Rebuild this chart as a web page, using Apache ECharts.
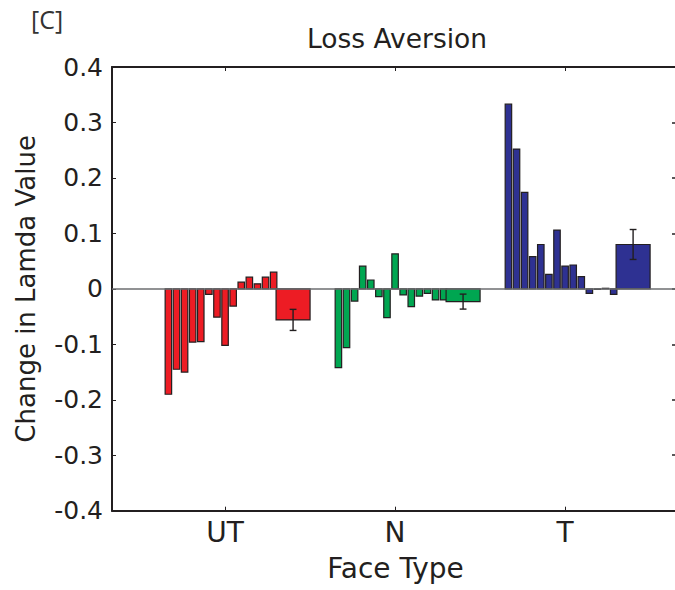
<!DOCTYPE html>
<html>
<head>
<meta charset="utf-8">
<script src="https://cdn.jsdelivr.net/npm/echarts@6/dist/echarts.min.js"></script>
<style>
html,body{margin:0;padding:0;background:#fff;overflow:hidden;}
#chart{width:675px;height:590px;}
</style>
</head>
<body>
<div id="chart"></div>
<script>
// ---- data ----
const groups = ['UT', 'N', 'T'];
const utBars = [-0.190, -0.145, -0.150, -0.096, -0.095, -0.010, -0.051, -0.102, -0.031, 0.012, 0.021, 0.009, 0.021, 0.030];
const nBars  = [-0.142, -0.106, -0.022, 0.041, 0.016, -0.014, -0.052, 0.063, -0.011, -0.032, -0.013, -0.008, -0.020, -0.020];
const tBars  = [0.333, 0.252, 0.174, 0.058, 0.080, 0.026, 0.106, 0.041, 0.043, 0.022, -0.008, -0.001, 0.001, -0.010];
const groupMeans = [-0.056, -0.023, 0.080];
const groupErrors = [0.019, 0.0135, 0.027];
const yTickLabels = ['-0.4', '-0.3', '-0.2', '-0.1', '0', '0.1', '0.2', '0.3', '0.4'];

// ---- layout / style ----
const colors = ['#ED1C24', '#00A651', '#2E3192'];
const edge = '#231f20';
const FONT = 'DejaVu Sans';
const slot = 1 / 21;           // spacing of individual bars within a group
const smallW = 0.8 * slot;     // individual bar width (axis units)
const meanOffset = 0.4;        // mean bar centre relative to group tick
const meanW = 0.2;             // mean bar width (axis units)
const capW = 0.04;             // error-bar cap width

const allBars = [utBars, nBars, tBars];
const smallData = [];
allBars.forEach((arr, g) => {
  arr.forEach((v, i) => {
    smallData.push([g + 1 + (i - 7) * slot, v, g]);
  });
});
const meanData = groupMeans.map((m, g) => [g + 1 + meanOffset, m, g]);
const errData = groupMeans.map((m, g) => [g + 1 + meanOffset, m - groupErrors[g], m + groupErrors[g]]);

function barRenderer(width) {
  return function (params, api) {
    const x = api.value(0), y = api.value(1), g = api.value(2);
    const p0 = api.coord([x - width / 2, y]);
    const p1 = api.coord([x + width / 2, 0]);
    return {
      type: 'rect',
      shape: { x: p0[0], y: Math.min(p0[1], p1[1]), width: p1[0] - p0[0], height: Math.abs(p1[1] - p0[1]) },
      style: { fill: colors[g], stroke: edge, lineWidth: 1.2 }
    };
  };
}

function errRenderer(params, api) {
  const x = api.value(0), lo = api.value(1), hi = api.value(2);
  const pl = api.coord([x, lo]), ph = api.coord([x, hi]);
  const cl0 = api.coord([x - capW / 2, lo]), cl1 = api.coord([x + capW / 2, lo]);
  const ch0 = api.coord([x - capW / 2, hi]), ch1 = api.coord([x + capW / 2, hi]);
  const st = { stroke: edge, lineWidth: 1.4 };
  return {
    type: 'group',
    children: [
      { type: 'line', shape: { x1: pl[0], y1: pl[1], x2: ph[0], y2: ph[1] }, style: st },
      { type: 'line', shape: { x1: cl0[0], y1: cl0[1], x2: cl1[0], y2: cl1[1] }, style: st },
      { type: 'line', shape: { x1: ch0[0], y1: ch0[1], x2: ch1[0], y2: ch1[1] }, style: st }
    ]
  };
}

const xMin = 0.335, xMax = 3.67;
const tickVals = groups.map((_, i) => i + 1);

const chart = echarts.init(document.getElementById('chart'), null, { renderer: 'svg' });
chart.setOption({
  animation: false,
  backgroundColor: '#fff',
  textStyle: { fontFamily: FONT },
  grid: { left: 112, top: 67, width: 567, height: 443.7, containLabel: false, outerBoundsMode: 'none' },
  graphic: [
    { type: 'text', left: 31, top: 6, style: { text: '[C]', font: '25px "Open Sans"', fill: '#333' } },
    { type: 'text', x: 397, y: 38, style: { text: 'Loss Aversion', font: '26.5px "DejaVu Sans"', fill: edge, align: 'center', verticalAlign: 'middle' } }
  ],
  xAxis: [
    {
      type: 'value', min: xMin, max: xMax, position: 'bottom',
      axisLine: { show: true, onZero: false, lineStyle: { color: edge, width: 2 } },
      axisTick: { show: true, inside: true, length: 4, customValues: tickVals, lineStyle: { color: edge, width: 1 } },
      axisLabel: { show: true, customValues: tickVals, margin: 8, fontSize: 28, color: edge, fontFamily: FONT,
        formatter: v => groups[Math.round(v) - 1] },
      splitLine: { show: false },
      name: 'Face Type', nameLocation: 'middle', nameGap: 44,
      nameTextStyle: { fontSize: 28, color: edge, fontFamily: FONT }
    },
    {
      type: 'value', min: xMin, max: xMax, position: 'top',
      axisLine: { show: true, onZero: false, lineStyle: { color: edge, width: 2 } },
      axisTick: { show: true, inside: true, length: 4, customValues: tickVals, lineStyle: { color: edge, width: 1 } },
      axisLabel: { show: false },
      splitLine: { show: false }
    }
  ],
  yAxis: [
    {
      type: 'value', min: -0.4, max: 0.4, interval: 0.1, position: 'left',
      axisLine: { show: true, onZero: false, lineStyle: { color: edge, width: 2 } },
      axisTick: { show: true, inside: true, length: 4, lineStyle: { color: edge, width: 1 } },
      axisLabel: { margin: 9, fontSize: 25, color: edge, fontFamily: FONT,
        formatter: v => yTickLabels[Math.round(v * 10) + 4] },
      splitLine: { show: false },
      name: 'Change in Lamda Value', nameLocation: 'middle', nameGap: 73,
      nameTextStyle: { fontSize: 26, color: edge, fontFamily: FONT }
    },
    {
      type: 'value', min: -0.4, max: 0.4, interval: 0.1, position: 'right',
      axisLine: { show: true, onZero: false, lineStyle: { color: edge, width: 2 } },
      axisTick: { show: true, inside: true, length: 7, lineStyle: { color: edge, width: 1.5 } },
      axisLabel: { show: false },
      splitLine: { show: false }
    }
  ],
  series: [
    {
      type: 'custom', name: 'subjects', xAxisIndex: 0, yAxisIndex: 0,
      renderItem: barRenderer(smallW), data: smallData, silent: true,
      encode: { x: 0, y: 1 }
    },
    {
      type: 'custom', name: 'means', xAxisIndex: 0, yAxisIndex: 0,
      renderItem: barRenderer(meanW), data: meanData, silent: true,
      encode: { x: 0, y: 1 },
      markLine: {
        silent: true, symbol: 'none', label: { show: false },
        lineStyle: { color: '#6d6e71', width: 1.6, type: 'solid' },
        data: [{ yAxis: 0 }]
      }
    },
    {
      type: 'custom', name: 'errors', xAxisIndex: 0, yAxisIndex: 0,
      renderItem: errRenderer, data: errData, silent: true,
      encode: { x: 0, y: [1, 2] }
    }
  ]
});
</script>
</body>
</html>
